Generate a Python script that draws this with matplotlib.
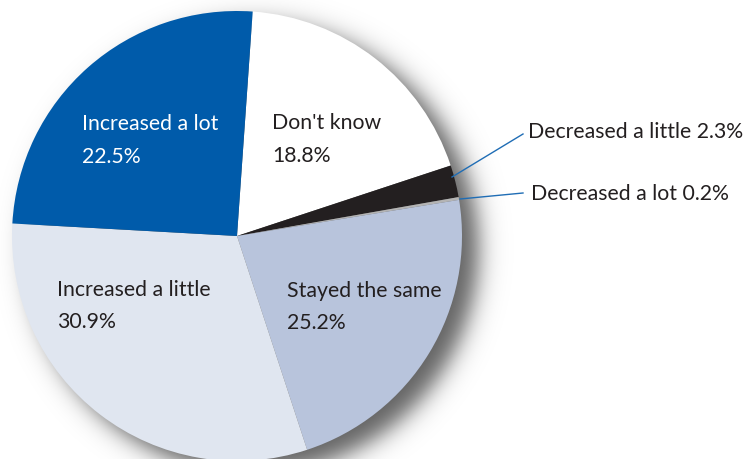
import numpy as np
import matplotlib.pyplot as plt

# Data
labels = ["Don't know", "Decreased a little", "Decreased a lot",
          "Stayed the same", "Increased a little", "Increased a lot"]
label_pcts = ["18.8%", "2.3%", "0.2%", "25.2%", "30.9%", "22.5%"]
# wedge sizes as actually drawn in the source (two slices appear swapped there)
slice_sizes = [18.8, 2.3, 0.2, 22.5, 30.9, 25.2]
colors = ["#ffffff", "#231f20", "#b4b4b4", "#b8c4dc", "#e0e6f0", "#005baa"]

W, H = 749, 460
cx, cy, R = 237, H - 237, 225

fig = plt.figure(figsize=(W / 100, H / 100), dpi=100)
ax = fig.add_axes([0, 0, 1, 1])

# soft drop shadow behind the pie
yy, xx = np.mgrid[0:H, 0:W]
d = np.hypot(xx - (cx + 16), (H - yy) - (cy - 12))
a = 0.62 * 0.5 * (1 - np.tanh((d - R) / 14.0))
shadow = np.zeros((H, W, 4))
shadow[..., 3] = a
ax.imshow(shadow, extent=[0, W, 0, H], origin="upper", zorder=0)

ax.pie(slice_sizes, colors=colors, startangle=86, counterclock=False,
       center=(cx, cy), radius=R, frame=True,
       wedgeprops=dict(linewidth=0, zorder=2))

dark = "#231f20"
font = "Lato"
fs = 15.3
# (slice index, x, baseline of name, baseline of pct, colour)
inside = [
    (5, 82, 130, 163, "white"),
    (0, 272, 129, 162, dark),
    (4, 57, 296, 328, dark),
    (3, 287, 297, 329, dark),
]
for i, x, y1, y2, c in inside:
    ax.text(x, H - y1, labels[i], color=c, fontsize=fs, family=font, va="baseline", zorder=5)
    ax.text(x, H - y2, label_pcts[i], color=c, fontsize=fs, family=font, va="baseline", zorder=5)

# callouts for the small slices
blue = "#1f6db5"
ax.plot([452, 523], [H - 178, H - 135], color=blue, lw=1, zorder=6)
ax.plot([460, 523], [H - 200, H - 194], color=blue, lw=1, zorder=6)
ax.text(528, H - 138, f"{labels[1]} {label_pcts[1]}", color=dark, fontsize=fs,
        family=font, va="baseline")
ax.text(531, H - 200, f"{labels[2]} {label_pcts[2]}", color=dark, fontsize=fs,
        family=font, va="baseline")

ax.set_xlim(0, W)
ax.set_ylim(0, H)
ax.set_aspect("equal")
ax.axis("off")

plt.savefig("out.png", dpi=100)
